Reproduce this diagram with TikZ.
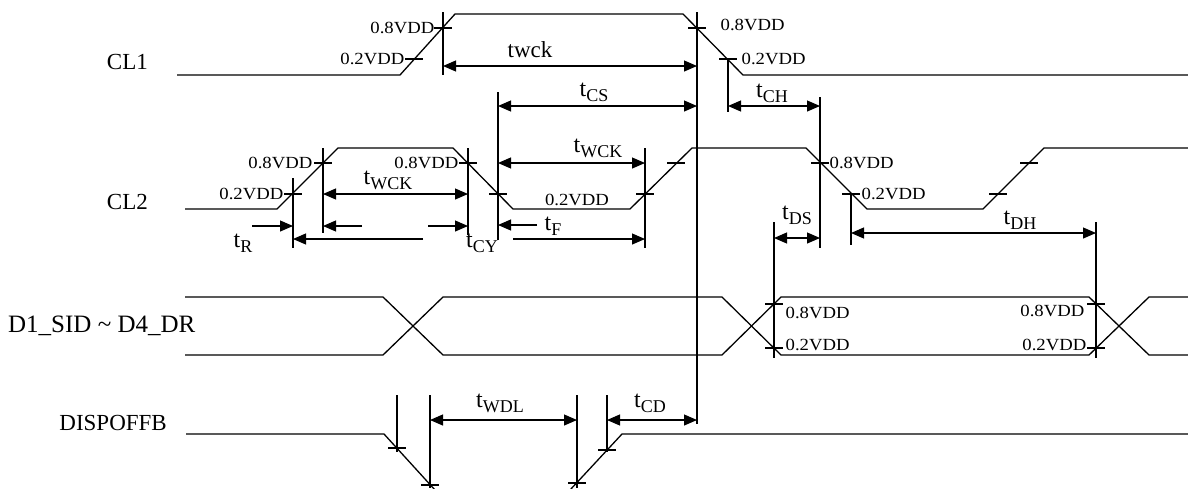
\documentclass[tikz,border=0pt]{standalone}
\usepackage{fontspec}
\setmainfont{Liberation Serif}
\newfontfamily\lvlfont[FakeStretch=1.1]{Liberation Serif}
\usetikzlibrary{arrows.meta}

\newcommand{\tsub}[1]{{\fontsize{24}{24}\selectfont t}\raisebox{-5pt}{\fontsize{18}{18}\selectfont #1}}

\tikzset{
  sig/.style={line width=1.3pt},
  guide/.style={line width=1.1pt},
  dim/.style={line width=1.1pt, {Triangle[length=13pt,width=11pt]}-{Triangle[length=13pt,width=11pt]}},
  arr/.style={line width=1.1pt, -{Triangle[length=13pt,width=11pt]}},
  signame/.style={font=\fontsize{23}{23}\selectfont, inner sep=0pt},
  lvl/.style={font={\lvlfont\fontsize{17}{17}\selectfont}, inner sep=1.5pt},
  tlab/.style={inner sep=0pt}
}

\begin{document}
\begin{tikzpicture}[x=1pt,y=-1pt]
\useasboundingbox (0,0) rectangle (1188,488);

% signal names
\node[signame, anchor=east] (cl1) at (148,62) {CL1};
\node[signame, anchor=east] (cl2) at (148,202) {CL2};
\node[signame, anchor=west, font=\fontsize{25}{25}\selectfont] (data) at (8,326) {D1\_SID \textasciitilde\ D4\_DR};
\node[signame, anchor=east] (disp) at (167,423) {DISPOFFB};

% waveforms
\draw[sig] (177,75) -- (400,75) -- (455,14) -- (683,14) -- (743,75) -- (1188,75);
\draw[sig] (185,209) -- (277,209) -- (338,148) -- (453,148) -- (513,209) -- (630,209)
  -- (692,148) -- (806,148) -- (867,209) -- (983,209) -- (1044,148) -- (1188,148);
\draw[sig] (185,297) -- (383,297) -- (443,355) -- (722,355) -- (781,297) -- (1089,297) -- (1149,355) -- (1188,355);
\draw[sig] (185,355) -- (383,355) -- (443,297) -- (722,297) -- (781,355) -- (1089,355) -- (1149,297) -- (1188,297);
\draw[sig] (186,434) -- (384,434) -- (435,490);
\draw[sig] (570,490) -- (622,434) -- (1188,434);

% guide lines
\draw[guide] (443,12) -- (443,75);
\draw[guide] (697,12) -- (697,424);
\draw[guide] (728,59) -- (728,112);
\draw[guide] (820,97) -- (820,248);
\draw[guide] (293,178) -- (293,248);
\draw[guide] (323,148) -- (323,233);
\draw[guide] (468,148) -- (468,235);
\draw[guide] (498,92) -- (498,240);
\draw[guide] (645,148) -- (645,248);
\draw[guide] (851,194) -- (851,245);
\draw[guide] (774,222) -- (774,358);
\draw[guide] (1096,222) -- (1096,358);
\draw[guide] (397,395) -- (397,452);
\draw[guide] (430,395) -- (430,488);
\draw[guide] (577,395) -- (577,488);
\draw[guide] (607,395) -- (607,452);

% level ticks
\foreach \x/\y in {443/28, 414/59, 697/28, 728/59, 293/194, 323/163, 468/163, 498/194,
  645/194, 676/163, 820/163, 851/194, 998/194, 1029/163, 774/304, 774/348,
  1096/304, 1096/348, 397/448, 430/485, 577/483, 607/450}
  \draw[guide] (\x-9,\y) -- (\x+9,\y);

% timing arrows
\draw[dim] (443,66) -- (697,66);
\draw[dim] (498,106) -- (697,106);
\draw[dim] (728,106) -- (820,106);
\draw[dim] (323,194) -- (468,194);
\draw[dim] (498,163) -- (645,163);
\draw[dim] (774,238) -- (820,238);
\draw[dim] (851,233) -- (1096,233);
\draw[dim] (430,420) -- (577,420);
\draw[dim] (607,420) -- (697,420);
\draw[arr] (362,226) -- (323,226);
\draw[arr] (428,226) -- (468,226);
\draw[arr] (252,226) -- (293,226);
\draw[arr] (423,239) -- (293,239);
\draw[arr] (513,239) -- (645,239);
\draw[arr] (537,225) -- (498,225);

% timing labels
\node[signame] (twck) at (530,50) {twck};
\node[tlab] (tcs) at (594,92) {\tsub{CS}};
\node[tlab] (tch) at (772,93) {\tsub{CH}};
\node[tlab] (twck1) at (388,180) {\tsub{WCK}};
\node[tlab] (twck2) at (598,148) {\tsub{WCK}};
\node[tlab] (tr) at (243,243) {\tsub{R}};
\node[tlab] (tcy) at (482,243) {\tsub{CY}};
\node[tlab] (tf) at (553,226) {\tsub{F}};
\node[tlab] (tds) at (797,215) {\tsub{DS}};
\node[tlab] (tdh) at (1020,220) {\tsub{DH}};
\node[tlab] (twdl) at (500,403) {\tsub{WDL}};
\node[tlab] (tcd) at (650,403) {\tsub{CD}};

% level labels
\node[lvl, anchor=east] (a1) at (436,28) {0.8VDD};
\node[lvl, anchor=east] (a2) at (406,59) {0.2VDD};
\node[lvl, anchor=west] (a3) at (719,25) {0.8VDD};
\node[lvl, anchor=west] (a4) at (740,59) {0.2VDD};
\node[lvl, anchor=east] (b1) at (314,163) {0.8VDD};
\node[lvl, anchor=east] (b2) at (285,194) {0.2VDD};
\node[lvl, anchor=east] (b3) at (460,163) {0.8VDD};
\node[lvl] (b4) at (577,200) {0.2VDD};
\node[lvl, anchor=west] (b5) at (828,163) {0.8VDD};
\node[lvl, anchor=west] (b6) at (860,194) {0.2VDD};
\node[lvl, anchor=west] (c1) at (784,313) {0.8VDD};
\node[lvl, anchor=west] (c2) at (784,345) {0.2VDD};
\node[lvl, anchor=east] (c3) at (1086,311) {0.8VDD};
\node[lvl, anchor=east] (c4) at (1088,345) {0.2VDD};
\end{tikzpicture}
\end{document}
